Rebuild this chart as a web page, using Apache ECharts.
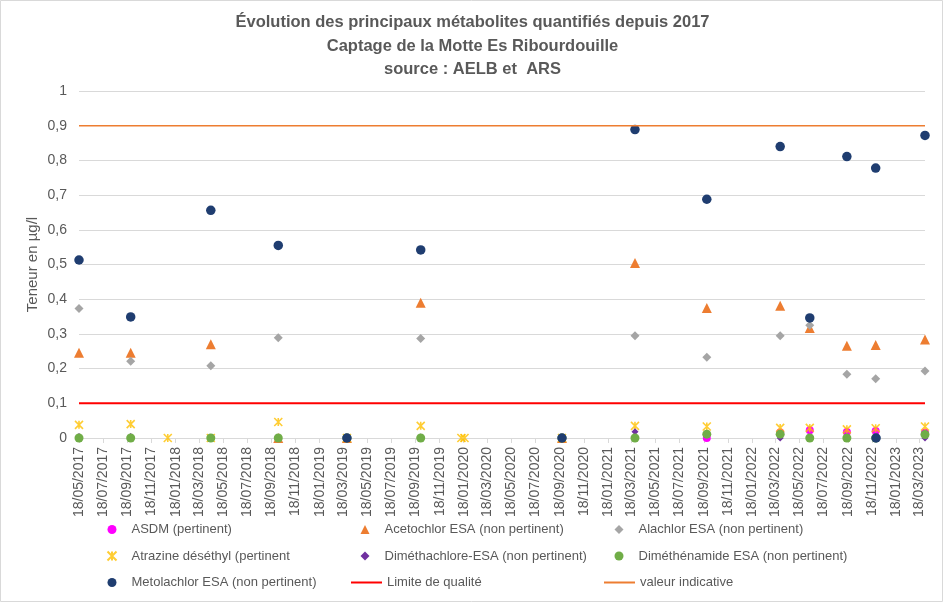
<!DOCTYPE html>
<html>
<head>
<meta charset="utf-8">
<script src="https://cdn.jsdelivr.net/npm/echarts@6/dist/echarts.min.js"></script>
<style>
  html, body { margin: 0; padding: 0; background: #fff; }
  #main { width: 945px; height: 605px; }
</style>
</head>
<body>
<div id="main"></div>
<script>
// sampling dates
let sampleDates = ['2017-05-18', '2017-09-26', '2017-12-29', '2018-04-17', '2018-10-05', '2019-03-28',
  '2019-10-01', '2020-01-12', '2020-01-20', '2020-09-23', '2021-03-27', '2021-09-25', '2022-03-30',
  '2022-06-13', '2022-09-15', '2022-11-27', '2022-11-28', '2023-04-01']

// teneurs en µg/l, null = pas de mesure
let asdm          = [null, null, null, null, null, null, null, null, null, null, null, 0, 0.016, 0.022, 0.017, 0.02, null, 0.015]
let acetochlor    = [0.246, 0.246, null, 0.27, 0, 0, 0.39, null, null, 0, 0.504, 0.375, 0.381, 0.317, 0.266, 0.268, null, 0.284]
let alachlor      = [0.373, 0.221, null, 0.208, 0.289, 0, 0.287, null, null, 0, 0.295, 0.233, 0.295, 0.325, 0.184, 0.171, null, 0.193]
let atrazine      = [0.038, 0.04, 0, 0, 0.046, 0, 0.035, 0, 0, 0, 0.035, 0.033, 0.029, 0.029, 0.025, 0.028, null, 0.033]
let dimethachlore = [0.004, 0.004, null, 0, 0, 0, 0.003, null, null, 0, 0.018, 0.01, 0, 0, 0, 0, null, 0]
let dimethenamide = [0, 0, null, 0, 0, 0, 0, null, null, 0, 0, 0.011, 0.011, 0, 0, 0, null, 0.01]
let metolachlor   = [0.513, 0.349, null, 0.656, 0.555, 0, 0.542, null, null, 0, 0.889, 0.688, 0.84, 0.346, 0.811, 0.778, 0, 0.872]

let limiteQualite = 0.1
let valeurIndicative = 0.9

let xTickLabels = ['18/05/2017', '18/07/2017', '18/09/2017', '18/11/2017', '18/01/2018', '18/03/2018',
  '18/05/2018', '18/07/2018', '18/09/2018', '18/11/2018', '18/01/2019', '18/03/2019',
  '18/05/2019', '18/07/2019', '18/09/2019', '18/11/2019', '18/01/2020', '18/03/2020',
  '18/05/2020', '18/07/2020', '18/09/2020', '18/11/2020', '18/01/2021', '18/03/2021',
  '18/05/2021', '18/07/2021', '18/09/2021', '18/11/2021', '18/01/2022', '18/03/2022',
  '18/05/2022', '18/07/2022', '18/09/2022', '18/11/2022', '18/01/2023', '18/03/2023']
let yTickLabels = ['0', '0,1', '0,2', '0,3', '0,4', '0,5', '0,6', '0,7', '0,8', '0,9', '1']

let titleLines = ['Évolution des principaux métabolites quantifiés depuis 2017',
  'Captage de la Motte Es Ribourdouille', 'source : AELB et  ARS']

// dates -> day numbers (UTC, so every day counts the same)
function isoToDay(s) {
  let p = s.split('-')
  return Date.UTC(+p[0], +p[1] - 1, +p[2]) / 86400000
}
function frToDay(s) {
  let p = s.split('/')
  return Date.UTC(+p[2], +p[1] - 1, +p[0]) / 86400000
}

let days = sampleDates.map(isoToDay)
let tickDays = xTickLabels.map(frToDay)
let xMin = days[0]
let xMax = days[days.length - 1]

function pairs(values) {
  let out = []
  for (let i = 0; i < values.length; i++) {
    if (values[i] !== null) out.push([days[i], values[i]])
  }
  return out
}

let font = 'Liberation Sans'
let grey = '#595959'

function scatter(name, values, symbol, size, color, extra) {
  let s = {
    name: name,
    type: 'scatter',
    symbol: symbol,
    symbolSize: size,
    clip: false,
    itemStyle: { color: color, opacity: 1 },
    data: pairs(values)
  }
  return Object.assign(s, extra || {})
}

// excel "star" marker : X + vertical stroke
let starPath = 'path://M0,0L10,10M0,10L10,0M5,0L5,10'

// legends : one per column for the markers, one per column for the lines
let legendText = { fontFamily: font, fontSize: 13, color: grey, lineHeight: 14, padding: [0, 0, 0, 10] }
function markerLegend(left, names) {
  return { orient: 'vertical', left: left, top: 522.5, padding: 0, itemGap: 12.5, itemWidth: 9, itemHeight: 9,
    textStyle: legendText, data: names }
}
function lineLegend(left, name) {
  return { orient: 'vertical', left: left, top: 575.5, padding: 0, itemWidth: 31, itemHeight: 2,
    textStyle: { fontFamily: font, fontSize: 13, color: grey, lineHeight: 14 },
    data: [{ name: name, icon: 'rect' }] }
}

var myChart = echarts.init(document.getElementById('main'))

var option = {
  animation: false,
  backgroundColor: '#fff',
  title: titleLines.map(function(t, i) {
    return {
      text: t,
      left: 'center',
      top: 14 + i * 23.5,
      padding: 0,
      textStyle: { fontFamily: font, fontSize: 16.5, fontWeight: 'bold', color: grey }
    }
  }),
  graphic: [{
    type: 'rect',
    shape: { x: 0.5, y: 0.5, width: 942, height: 601 },
    style: { fill: 'none', stroke: '#D9D9D9', lineWidth: 1 },
    silent: true
  }],
  legend: [
    markerLegend(106.5, ['ASDM (pertinent)', 'Atrazine déséthyl (pertinent', 'Metolachlor ESA (non pertinent)']),
    markerLegend(360.5, ['Acetochlor ESA (non pertinent)', 'Diméthachlore-ESA (non pertinent)']),
    markerLegend(614.5, ['Alachlor ESA (non pertinent)', 'Diméthénamide ESA (non pertinent)']),
    lineLegend(351, 'Limite de qualité'),
    lineLegend(604, 'valeur indicative')
  ],
  grid: { left: 79, right: 20, top: 91, bottom: 167 },
  xAxis: {
    type: 'value',
    min: xMin,
    max: xMax,
    axisLine: { lineStyle: { color: '#D9D9D9', width: 1 } },
    axisTick: { show: true, length: 5, lineStyle: { color: '#D9D9D9' }, customValues: tickDays },
    splitLine: { show: false },
    axisLabel: {
      rotate: 90,
      margin: 9,
      color: grey,
      fontFamily: font,
      fontSize: 14,
      customValues: tickDays,
      formatter: function(v) {
        let i = tickDays.indexOf(Math.round(v))
        return i >= 0 ? xTickLabels[i] : ''
      }
    }
  },
  yAxis: {
    type: 'value',
    min: 0,
    max: 1,
    interval: 0.1,
    name: 'Teneur en µg/l',
    nameLocation: 'middle',
    nameGap: 39,
    nameRotate: 90,
    nameMoveOverlap: false,
    nameTextStyle: { fontFamily: font, fontSize: 15, color: grey },
    axisLine: { show: false },
    axisTick: { show: false },
    splitLine: { lineStyle: { color: '#D9D9D9', width: 1 } },
    axisLabel: {
      margin: 12,
      color: grey,
      fontFamily: font,
      fontSize: 14,
      formatter: function(v) { return yTickLabels[Math.round(v * 10)] }
    }
  },
  series: [
    scatter('ASDM (pertinent)', asdm, 'circle', 8, '#FF00FF'),
    scatter('Acetochlor ESA (non pertinent)', acetochlor, 'triangle', 10, '#ED7D31'),
    scatter('Alachlor ESA (non pertinent)', alachlor, 'diamond', 9, '#A5A5A5'),
    scatter('Atrazine déséthyl (pertinent', atrazine, starPath, 8, '#FFC000',
      { itemStyle: { color: 'rgba(0,0,0,0)', borderColor: '#FFC000', borderWidth: 1.6 } }),
    scatter('Diméthachlore-ESA (non pertinent)', dimethachlore, 'diamond', 7, '#7030A0'),
    scatter('Diméthénamide ESA (non pertinent)', dimethenamide, 'circle', 9, '#70AD47'),
    scatter('Metolachlor ESA (non pertinent)', metolachlor, 'circle', 9.5, '#1F3D70'),
    {
      name: 'Limite de qualité',
      type: 'line',
      symbol: 'none',
      lineStyle: { color: '#FF0000', width: 2 },
      itemStyle: { color: '#FF0000' },
      data: [[xMin, limiteQualite], [xMax, limiteQualite]]
    },
    {
      name: 'valeur indicative',
      type: 'line',
      symbol: 'none',
      lineStyle: { color: '#ED7D31', width: 1.5 },
      itemStyle: { color: '#ED7D31' },
      data: [[xMin, valeurIndicative], [xMax, valeurIndicative]]
    }
  ]
}

myChart.setOption(option)
</script>
</body>
</html>
